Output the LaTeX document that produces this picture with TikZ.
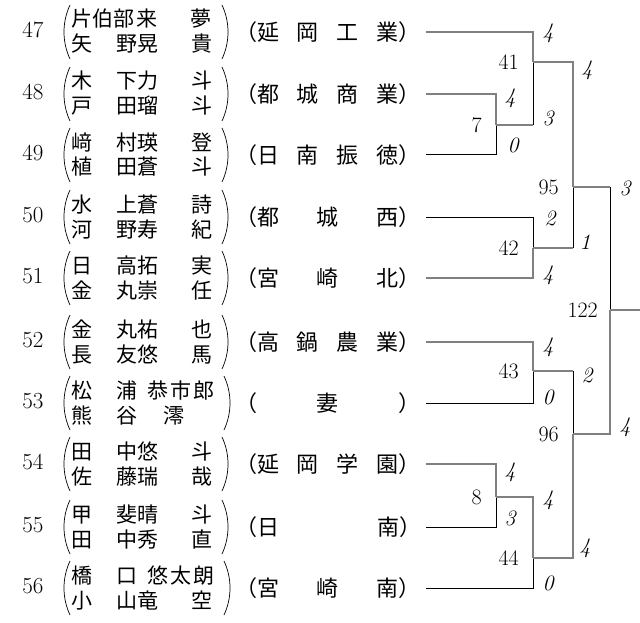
\documentclass[tikz,border=0pt]{standalone}
\usepackage{fontspec}
\newfontfamily\jp{Noto Sans CJK JP}
\usepackage{tikz}
\usetikzlibrary{positioning}
\newcommand\ga{\hspace{24pt}}
\newcommand\gb{\hspace{33pt}}
\tikzset{
  seedno/.style={font=\fontsize{23}{23}\selectfont, inner sep=0pt},
  pname/.style={font=\jp\fontsize{21}{21}\selectfont, anchor=west, inner sep=0pt, text height=18.5pt, text depth=2.5pt},
  school/.style={font=\jp\fontsize{22}{22}\selectfont, anchor=west, inner sep=0pt, outer xsep=5pt, text height=19.4pt, text depth=2.6pt},
  paren/.style={line width=0.7pt},
  won/.style={draw=black!50, line width=1.4pt},
  lost/.style={draw=black, line width=1pt},
  mno/.style={font=\fontsize{22}{22}\selectfont, inner sep=0pt},
  score/.style={font=\itshape\fontsize{22}{22}\selectfont, inner sep=0pt}
}
\begin{document}
\begin{tikzpicture}[x=1pt, y=-1pt]
            \useasboundingbox (0,0) rectangle (640,623);
            \node[seedno] (k47) at (33,30) {47};
            \node[pname] (a47) at (71.5,19) {片伯部\hspace{2pt}来\gb 夢};
            \node[pname] (b47) at (71.5,44) {矢\ga 野晃\gb 貴};
            \node[school] (s47) at (230,32) {（延\hspace{18pt}岡\hspace{18pt}工\hspace{18pt}業）};
            \node[seedno] (k48) at (33,92) {48};
            \node[pname] (a48) at (71.5,81) {木\ga 下力\gb 斗};
            \node[pname] (b48) at (71.5,106) {戸\ga 田瑠\gb 斗};
            \node[school] (s48) at (230,94) {（都\hspace{18pt}城\hspace{18pt}商\hspace{18pt}業）};
            \node[seedno] (k49) at (33,153) {49};
            \node[pname] (a49) at (71.5,142) {﨑\ga 村瑛\gb 登};
            \node[pname] (b49) at (71.5,167) {植\ga 田蒼\gb 斗};
            \node[school] (s49) at (230,155) {（日\hspace{18pt}南\hspace{18pt}振\hspace{18pt}徳）};
            \node[seedno] (k50) at (33,215) {50};
            \node[pname] (a50) at (71.5,204) {水\ga 上蒼\gb 詩};
            \node[pname] (b50) at (71.5,229) {河\ga 野寿\gb 紀};
            \node[school] (s50) at (230,217) {（都\hspace{38pt}城\hspace{38pt}西）};
            \node[seedno] (k51) at (33,276) {51};
            \node[pname] (a51) at (71.5,265) {日\ga 高拓\gb 実};
            \node[pname] (b51) at (71.5,290) {金\ga 丸崇\gb 任};
            \node[school] (s51) at (230,278) {（宮\hspace{38pt}崎\hspace{38pt}北）};
            \node[seedno] (k52) at (33,340) {52};
            \node[pname] (a52) at (71.5,329) {金\ga 丸祐\gb 也};
            \node[pname] (b52) at (71.5,354) {長\ga 友悠\gb 馬};
            \node[school] (s52) at (230,342) {（高\hspace{18pt}鍋\hspace{18pt}農\hspace{18pt}業）};
            \node[seedno] (k53) at (33,401) {53};
            \node[pname] (a53) at (71.5,390) {松\ga 浦\hspace{10pt}恭\hspace{2pt}市\hspace{2pt}郎};
            \node[pname] (b53) at (71.5,415) {熊\ga 谷\hspace{26pt}澪};
            \node[school] (s53) at (230,403) {（\hspace{60pt}妻\hspace{60pt}）};
            \node[seedno] (k54) at (33,462) {54};
            \node[pname] (a54) at (71.5,451) {田\ga 中悠\gb 斗};
            \node[pname] (b54) at (71.5,476) {佐\ga 藤瑞\gb 哉};
            \node[school] (s54) at (230,464) {（延\hspace{18pt}岡\hspace{18pt}学\hspace{18pt}園）};
            \node[seedno] (k55) at (33,525) {55};
            \node[pname] (a55) at (71.5,514) {甲\ga 斐晴\gb 斗};
            \node[pname] (b55) at (71.5,539) {田\ga 中秀\gb 直};
            \node[school] (s55) at (230,527) {（日\hspace{98pt}南）};
            \node[seedno] (k56) at (33,586) {56};
            \node[pname] (a56) at (71.5,575) {橋\ga 口\hspace{10pt}悠\hspace{2pt}太\hspace{2pt}朗};
            \node[pname] (b56) at (71.5,600) {小\ga 山竜\gb 空};
            \node[school] (s56) at (230,588) {（宮\hspace{38pt}崎\hspace{38pt}南）};
            \draw[paren] (70,5) .. controls (62,22) and (62,42) .. (70,59);
            \draw[paren] (222,5) .. controls (230,22) and (230,42) .. (222,59);
            \draw[paren] (70,67) .. controls (62,84) and (62,104) .. (70,121);
            \draw[paren] (222,67) .. controls (230,84) and (230,104) .. (222,121);
            \draw[paren] (70,128) .. controls (62,145) and (62,165) .. (70,182);
            \draw[paren] (222,128) .. controls (230,145) and (230,165) .. (222,182);
            \draw[paren] (70,190) .. controls (62,207) and (62,227) .. (70,244);
            \draw[paren] (222,190) .. controls (230,207) and (230,227) .. (222,244);
            \draw[paren] (70,251) .. controls (62,268) and (62,288) .. (70,305);
            \draw[paren] (222,251) .. controls (230,268) and (230,288) .. (222,305);
            \draw[paren] (70,315) .. controls (62,332) and (62,352) .. (70,369);
            \draw[paren] (222,315) .. controls (230,332) and (230,352) .. (222,369);
            \draw[paren] (70,376) .. controls (62,393) and (62,413) .. (70,430);
            \draw[paren] (224,376) .. controls (232,393) and (232,413) .. (224,430);
            \draw[paren] (70,437) .. controls (62,454) and (62,474) .. (70,491);
            \draw[paren] (222,437) .. controls (230,454) and (230,474) .. (222,491);
            \draw[paren] (70,500) .. controls (62,517) and (62,537) .. (70,554);
            \draw[paren] (222,500) .. controls (230,517) and (230,537) .. (222,554);
            \draw[paren] (70,561) .. controls (62,578) and (62,598) .. (70,615);
            \draw[paren] (224,561) .. controls (232,578) and (232,598) .. (224,615);
            \coordinate (m7) at (496,125);
            \coordinate (m41) at (533,62);
            \coordinate (m42) at (533,248);
            \coordinate (m95) at (573,187);
            \coordinate (m43) at (533,371);
            \coordinate (m8) at (496,497);
            \coordinate (m44) at (533,558);
            \coordinate (m96) at (573,434);
            \coordinate (m122) at (610,310);
            \coordinate (champ) at (640,310);
            \draw[won] (s48.east) -| (m7);
            \draw[lost] (s49.east) -| (m7);
            \draw[won] (s47.east) -| (m41);
            \draw[won] (m7) -- (m7 -| m41);
            \draw[lost] (m7 -| m41) -- (m41);
            \draw[lost] (s50.east) -| (m42);
            \draw[won] (s51.east) -| (m42);
            \draw[won] (m41) -| (m95);
            \draw[won] (m42) -- (m42 -| m95);
            \draw[lost] (m42 -| m95) -- (m95);
            \draw[won] (s52.east) -| (m43);
            \draw[lost] (s53.east) -| (m43);
            \draw[won] (s54.east) -| (m8);
            \draw[lost] (s55.east) -| (m8);
            \draw[won] (m8) -| (m44);
            \draw[lost] (s56.east) -| (m44);
            \draw[won] (m43) -- (m43 -| m96);
            \draw[lost] (m43 -| m96) -- (m96);
            \draw[won] (m44) -| (m96);
            \draw[won] (m95) -- (m95 -| m122);
            \draw[lost] (m95 -| m122) -- (m122);
            \draw[won] (m96) -| (m122);
            \draw[won] (m122) -- (champ);
            \node[mno, left=14pt of m7] (t7) {7};
            \node[mno, left=14pt of m41] (t41) {41};
            \node[mno, left=14pt of m42] (t42) {42};
            \node[mno, left=14pt of m95] (t95) {95};
            \node[mno, left=14pt of m43] (t43) {43};
            \node[mno, left=14pt of m8] (t8) {8};
            \node[mno, left=14pt of m44] (t44) {44};
            \node[mno, left=14pt of m96] (t96) {96};
            \node[mno, left=12pt of m122] (t122) {122};
            \node[score] (p7a) at (510,98) {4};
            \node[score] (p7b) at (513,145) {0};
            \node[score] (p41a) at (548,33) {4};
            \node[score] (p41b) at (548,118) {3};
            \node[score] (p42a) at (550,218) {2};
            \node[score] (p42b) at (548,275) {4};
            \node[score] (p95a) at (587,70) {4};
            \node[score] (p95b) at (585,242) {1};
            \node[score] (p43a) at (548,347) {4};
            \node[score] (p43b) at (548,397) {0};
            \node[score] (p8a) at (510,472) {4};
            \node[score] (p8b) at (510,518) {3};
            \node[score] (p44a) at (548,500) {4};
            \node[score] (p44b) at (548,583) {0};
            \node[score] (p96a) at (587,375) {2};
            \node[score] (p96b) at (585,548) {4};
            \node[score] (p122a) at (625,188) {3};
            \node[score] (p122b) at (625,427) {4};
        \end{tikzpicture}
\end{document}
